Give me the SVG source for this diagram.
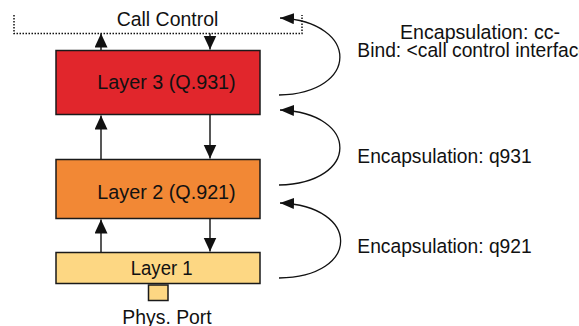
<svg xmlns="http://www.w3.org/2000/svg" width="579" height="326" viewBox="0 0 579 326">
<style>
.t{font-family:"Liberation Sans",Arial,Helvetica,sans-serif;font-size:20.5px;fill:#111}
.box{stroke:#1a1a1a;stroke-width:1.5}
.ln{stroke:#111;stroke-width:1.4;fill:none}
.cv{stroke:#111;stroke-width:1.3;fill:none}
</style>
<defs>
<marker id="ah" markerUnits="userSpaceOnUse" markerWidth="15" markerHeight="14" refX="14" refY="6.5" orient="auto">
<path d="M0,0 L14,6.5 L0,13 z" fill="#111"/>
</marker>
<marker id="ah2" markerUnits="userSpaceOnUse" markerWidth="15" markerHeight="12" refX="14" refY="5.5" orient="auto">
<path d="M0,0 L14,5.5 L0,11 z" fill="#111"/>
</marker>
</defs>
<g id="call-control">
<path d="M14,15 V33.5 H302 V15" fill="none" stroke="#111" stroke-width="1.5" stroke-dasharray="1.5 1.5"/>
<text class="t" x="116.7" y="26" textLength="101.6" lengthAdjust="spacingAndGlyphs">Call Control</text>
</g>
<g id="layer3">
<rect class="box" x="56" y="50.5" width="204" height="64" fill="#e1262c"/>
<text class="t" x="97.3" y="89.3" textLength="138.4" lengthAdjust="spacingAndGlyphs">Layer 3 (Q.931)</text>
</g>
<g id="layer2">
<rect class="box" x="56" y="159.5" width="204" height="59" fill="#f28835"/>
<text class="t" x="97.3" y="199.3" textLength="138.4" lengthAdjust="spacingAndGlyphs">Layer 2 (Q.921)</text>
</g>
<g id="layer1">
<rect class="box" x="56" y="252.5" width="204" height="31" fill="#fdd783"/>
<text class="t" x="130.7" y="275" textLength="62" lengthAdjust="spacingAndGlyphs">Layer 1</text>
</g>
<g id="phys-port">
<rect class="box" x="148.5" y="285" width="19.5" height="15.5" fill="#fdd783"/>
<text class="t" x="122.3" y="323.5" textLength="89.4" lengthAdjust="spacingAndGlyphs">Phys. Port</text>
</g>
<g id="labels">
<text class="t" x="400" y="39.3" textLength="160" lengthAdjust="spacingAndGlyphs">Encapsulation: cc-</text>
<text class="t" x="357.3" y="56.7" textLength="243" lengthAdjust="spacingAndGlyphs">Bind: &lt;call control interface&gt;</text>
<text class="t" x="357.3" y="162.7" textLength="174.4" lengthAdjust="spacingAndGlyphs">Encapsulation: q931</text>
<text class="t" x="357.3" y="252.7" textLength="174.4" lengthAdjust="spacingAndGlyphs">Encapsulation: q921</text>
</g>
<g id="connectors">
<line class="ln" x1="101" y1="50" x2="101" y2="33.5" marker-end="url(#ah)"/>
<line class="ln" x1="210" y1="33.5" x2="210" y2="49.5" marker-end="url(#ah)"/>
<line class="ln" x1="101" y1="159" x2="101" y2="115.5" marker-end="url(#ah)"/>
<line class="ln" x1="210" y1="115" x2="210" y2="158.5" marker-end="url(#ah)"/>
<line class="ln" x1="101" y1="252" x2="101" y2="219.5" marker-end="url(#ah)"/>
<line class="ln" x1="210" y1="219" x2="210" y2="251.5" marker-end="url(#ah)"/>
<path class="cv" d="M279,95 C360,93 360,22 280,18" marker-end="url(#ah2)"/>
<path class="cv" d="M279,185 C360,183 360,113 280,110" marker-end="url(#ah2)"/>
<path class="cv" d="M279,278 C361,277 361,206 280,203" marker-end="url(#ah2)"/>
</g>
</svg>
